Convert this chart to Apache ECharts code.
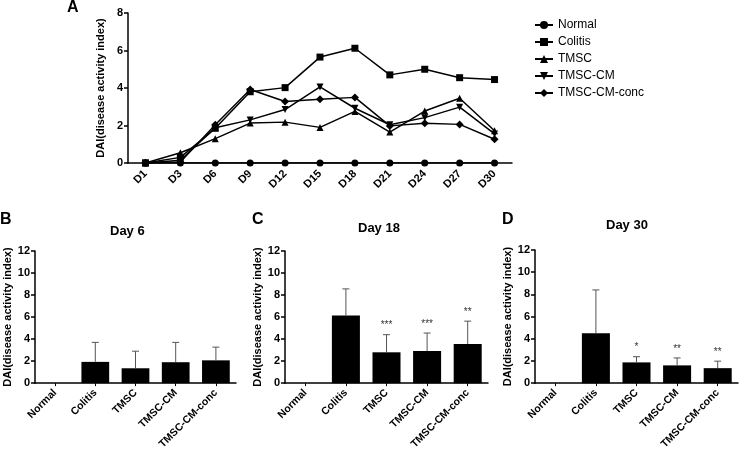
<!DOCTYPE html>
<html>
<head>
<meta charset="utf-8">
<script src="https://cdn.jsdelivr.net/npm/echarts@6/dist/echarts.min.js"></script>
<style>
html,body{margin:0;padding:0;background:#fff;}
#main{width:740px;height:452px;}
</style>
</head>
<body>
<div id="main"></div>
<script>
// ---- data ----
const days = ['D1','D3','D6','D9','D12','D15','D18','D21','D24','D27','D30'];
const normalLine = [0,0,0,0,0,0,0,0,0,0,0];
const colitisLine = [0,0.3,1.85,3.8,4.02,5.65,6.12,4.7,5.0,4.55,4.45];
const tmscLine = [0,0.55,1.3,2.13,2.18,1.9,2.75,1.65,2.77,3.45,1.72];
const tmscCmLine = [0,0.15,1.88,2.3,2.85,4.06,2.92,2.04,2.42,2.98,1.55];
const tmscCmConcLine = [0,0.05,2.04,3.92,3.28,3.4,3.5,1.98,2.12,2.06,1.27];

const groups = ['Normal','Colitis','TMSC','TMSC-CM','TMSC-CM-conc'];
const day6Mean  = [0,1.93,1.35,1.9,2.07];
const day6Upper = [0,3.7,2.9,3.7,3.27];
const day6Stars = ['','','','',''];
const day18Mean  = [0,6.15,2.8,2.92,3.55];
const day18Upper = [0,8.56,4.4,4.55,5.63];
const day18Stars = ['','','***','***','**'];
const day30Mean  = [0,4.5,1.87,1.6,1.35];
const day30Upper = [0,8.4,2.38,2.27,1.98];
const day30Stars = ['','','*','**','**'];
const yTitle = 'DAI(disease activity index)';

// ---- styling helpers ----
const FF = 'Liberation Sans, Arial, sans-serif';
const axisLineStyle = {show:true, lineStyle:{color:'#000', width:1.5}};
function yAx(gi, max){
  return {
    type:'value', gridIndex:gi, min:0, max:max, interval:2,
    axisLine:axisLineStyle,
    axisTick:{show:true, length:4, lineStyle:{color:'#000', width:1.5}},
    splitLine:{show:false},
    axisLabel:{color:'#000', fontFamily:FF, fontWeight:'bold', fontSize:11, margin:5},
    name:yTitle, nameLocation:'middle', nameGap:16,
    nameTextStyle:{color:'#000', fontFamily:FF, fontWeight:'bold', fontSize:11}
  };
}
function xAx(gi, data, fs, mg){
  return {
    type:'category', gridIndex:gi, data:data, boundaryGap:true,
    axisLine:axisLineStyle,
    axisTick:{show:true, alignWithLabel:true, length:3, lineStyle:{color:'#000', width:1}},
    axisLabel:{color:'#000', fontFamily:FF, fontWeight:'bold', fontSize:fs, rotate:45, margin:mg, interval:0}
  };
}
function lineSeries(name, data, symbol, size, rotate){
  return {
    type:'line', name:name, data:data, xAxisIndex:0, yAxisIndex:0,
    symbol:symbol, symbolSize:size, symbolRotate:rotate||0,
    lineStyle:{color:'#000', width:1.5},
    itemStyle:{color:'#000'},
    showAllSymbol:true, animation:false
  };
}
function barSeries(gi, means){
  return {
    type:'bar', xAxisIndex:gi, yAxisIndex:gi, data:means, barWidth:'69%',
    itemStyle:{color:'#000'}, animation:false
  };
}
function errSeries(gi, means, uppers, stars){
  return {
    type:'custom', xAxisIndex:gi, yAxisIndex:gi, z:5, animation:false,
    data: means.map((m,i)=>[i, m, uppers[i]]),
    encode:{x:0, y:[1,2]},
    renderItem:function(params, api){
      const i = api.value(0), m = api.value(1), u = api.value(2);
      if (!(u > m)) return null;
      const p0 = api.coord([i, m]);
      const p1 = api.coord([i, u]);
      const ch = [
        {type:'line', shape:{x1:p0[0], y1:p0[1], x2:p1[0], y2:p1[1]}, style:{stroke:'#555', lineWidth:1}},
        {type:'line', shape:{x1:p1[0]-3.5, y1:p1[1], x2:p1[0]+3.5, y2:p1[1]}, style:{stroke:'#555', lineWidth:1}}
      ];
      const s = stars[params.dataIndex];
      if (s) ch.push({type:'text', style:{text:s, x:p1[0], y:p1[1]-4, textAlign:'center', textVerticalAlign:'bottom', fontSize:10, fontFamily:FF, fill:'#333'}});
      return {type:'group', children:ch};
    }
  };
}
function txt(t, x, y, size, align){
  return {type:'text', left:x, top:y, style:{text:t, fontFamily:FF, fontWeight:'bold', fontSize:size, fill:'#000', textAlign:align||'left'}};
}

const chart = echarts.init(document.getElementById('main'), null, {renderer:'canvas'});
chart.setOption({
  backgroundColor:'#fff',
  animation:false,
  grid:[
    {left:128, top:13, width:384, height:150},
    {left:35, top:251, width:201, height:135},
    {left:285, top:251, width:203, height:135},
    {left:535, top:250, width:203, height:134}
  ],
  xAxis:[xAx(0, days, 11, 9), xAx(1, groups, 10.5, 8), xAx(2, groups, 10.5, 8), xAx(3, groups, 10.5, 8)],
  yAxis:[yAx(0, 8), yAx(1, 12), yAx(2, 12), yAx(3, 12)],
  legend:{
    orient:'vertical', left:529, top:14, itemWidth:18, itemHeight:10, itemGap:5,
    textStyle:{color:'#000', fontFamily:FF, fontSize:12},
    data:['Normal','Colitis','TMSC','TMSC-CM','TMSC-CM-conc']
  },
  graphic:[
    txt('A', 67, 0, 16),
    txt('B', 0, 212, 16),
    txt('C', 252, 212, 16),
    txt('D', 502, 212, 16),
    txt('Day 6', 110, 225, 13),
    txt('Day 18', 358, 222, 13),
    txt('Day 30', 606, 219, 13)
  ],
  series:[
    lineSeries('Normal', normalLine, 'circle', 7),
    lineSeries('Colitis', colitisLine, 'rect', 7),
    lineSeries('TMSC', tmscLine, 'triangle', 7),
    lineSeries('TMSC-CM', tmscCmLine, 'triangle', 7, 180),
    lineSeries('TMSC-CM-conc', tmscCmConcLine, 'diamond', 8),
    barSeries(1, day6Mean), errSeries(1, day6Mean, day6Upper, day6Stars),
    barSeries(2, day18Mean), errSeries(2, day18Mean, day18Upper, day18Stars),
    barSeries(3, day30Mean), errSeries(3, day30Mean, day30Upper, day30Stars)
  ]
});
</script>
</body>
</html>
